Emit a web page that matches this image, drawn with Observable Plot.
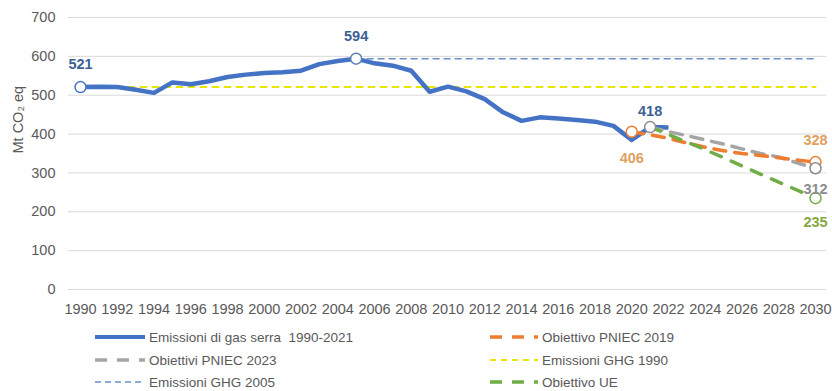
<!DOCTYPE html>
<html>
<head>
<meta charset="utf-8">
<script src="https://cdn.jsdelivr.net/npm/d3@7"></script>
<script src="https://cdn.jsdelivr.net/npm/@observablehq/plot@0.6"></script>
<style>
  body { margin: 0; background: #fff; }
  #chart { position: relative; width: 832px; height: 391px; font-family: "Liberation Sans", Arial, sans-serif; }
  .legend { position: absolute; left: 0; top: 322px; width: 832px; height: 69px; }
  .item { position: absolute; display: flex; align-items: center; font-size: 13.5px; color: #595959; white-space: pre; }
  .item svg { display: block; }
</style>
</head>
<body>
<div id="chart"></div>
<script>
// Emissioni di gas serra in Italia, 1990-2022 (Mt CO2 eq)
const years = [1990,1991,1992,1993,1994,1995,1996,1997,1998,1999,2000,2001,2002,2003,2004,2005,2006,2007,2008,2009,2010,2011,2012,2013,2014,2015,2016,2017,2018,2019,2020,2021,2022];
const emissions = [521,522,521,514,506,533,528,536,547,553,557,559,563,580,588,594,582,576,563,509,522,510,490,456,434,443,440,436,432,421,385,418,417];

// Obiettivo PNIEC 2019
const pniec2019Years = [2020,2021,2022,2023,2024,2025,2026,2027,2028,2029,2030];
const pniec2019 = [406,398,389,377,366,357,350,345,339,333,328];

// Obiettivi PNIEC 2023
const pniec2023Years = [2021,2022,2023,2024,2025,2026,2027,2028,2029,2030];
const pniec2023 = [418,406,396,385,374,362,350,341,326,312];

// Obiettivo UE
const ueYears = [2021,2024,2027,2030];
const ue = [418,360,297,235];

// Livelli di riferimento
const ghg1990 = 521;
const ghg2005 = 594;

const xTicks = d3.range(1990, 2031, 2);
const yTicks = [0,100,200,300,400,500,600,700];

const toRows = (xs, ys) => xs.map((x, i) => ({x, y: ys[i]}));
const mainRows = toRows(years, emissions);
const p19Rows = toRows(pniec2019Years, pniec2019);
const p23Rows = toRows(pniec2023Years, pniec2023);
const ueRows = toRows(ueYears, ue);
const ref1990 = [{x: 1990, y: ghg1990}, {x: 2030, y: ghg1990}];
const ref2005 = [{x: 2005, y: ghg2005}, {x: 2030, y: ghg2005}];

const C = {
  blue: "#4472c4", orange: "#ed7d31", gray: "#a5a5a5", green: "#70ad47",
  yellow: "#e6e600", steel: "#6a8fc8"
};

// punti evidenziati con etichetta (offset verticale dell'etichetta in px)
const markers = [
  {x: 1990, y: ghg1990, stroke: C.blue, label: String(ghg1990), fill: "#3d5f96", off: -23},
  {x: 2005, y: ghg2005, stroke: "#5b7fb5", label: String(ghg2005), fill: "#3d5f96", off: -22},
  {x: 2020, y: pniec2019[0], stroke: C.orange, label: String(pniec2019[0]), fill: "#e0a060", off: 27},
  {x: 2021, y: pniec2023[0], stroke: "#8c8c8c", label: String(pniec2023[0]), fill: "#3d5f96", off: -16},
  {x: 2030, y: pniec2019[pniec2019.length - 1], stroke: C.orange, label: String(pniec2019[pniec2019.length - 1]), fill: "#e0a060", off: -22},
  {x: 2030, y: pniec2023[pniec2023.length - 1], stroke: "#8c8c8c", label: String(pniec2023[pniec2023.length - 1]), fill: "#8c8c8c", off: 21},
  {x: 2030, y: ue[ue.length - 1], stroke: C.green, label: String(ue[ue.length - 1]), fill: "#86a843", off: 24}
];

const plot = Plot.plot({
  width: 832,
  height: 322,
  marginLeft: 68,
  marginRight: 6,
  marginTop: 17,
  marginBottom: 33,
  style: {fontFamily: "'Liberation Sans', Arial, sans-serif", fontSize: "14.5px", color: "#595959", background: "#fff"},
  x: {type: "linear", domain: [1990, 2030], insetLeft: 12, insetRight: 11},
  y: {domain: [0, 700]},
  marks: [
    Plot.gridY(yTicks, {stroke: "#d9d9d9", strokeOpacity: 1, strokeWidth: 1}),
    Plot.axisY(yTicks, {tickSize: 0, tickPadding: 13, tickFormat: d => String(d), label: null, fontSize: 14.5}),
    Plot.axisX(xTicks, {tickSize: 0, tickPadding: 14, tickFormat: d => String(d), label: null, fontSize: 14.5}),
    Plot.text(["Mt CO₂ eq"], {frameAnchor: "left", dx: -50, rotate: -90, fontSize: 14.5, fill: "#595959"}),
    Plot.line(ref1990, {x: "x", y: "y", stroke: C.yellow, strokeWidth: 2, strokeDasharray: "6,6"}),
    Plot.line(ref2005, {x: "x", y: "y", stroke: C.steel, strokeWidth: 1.5, strokeDasharray: "6,5"}),
    Plot.line(mainRows, {x: "x", y: "y", stroke: C.blue, strokeWidth: 4.5, strokeLinejoin: "round", strokeLinecap: "butt"}),
    Plot.line(p23Rows, {x: "x", y: "y", stroke: C.gray, strokeWidth: 3.5, strokeDasharray: "12,9"}),
    Plot.line(p19Rows, {x: "x", y: "y", stroke: C.orange, strokeWidth: 3.5, strokeDasharray: "12,9"}),
    Plot.line(ueRows, {x: "x", y: "y", stroke: C.green, strokeWidth: 3.5, strokeDasharray: "11,11"}),
    Plot.dot(markers, {x: "x", y: "y", r: 5.5, fill: "#fff", stroke: "stroke", strokeWidth: 1.5}),
    ...markers.map(m => Plot.text([m], {x: "x", y: "y", text: "label", dy: m.off, fill: m.fill, fontWeight: "bold", fontSize: 14.5}))
  ]
});

const chart = document.getElementById("chart");
chart.appendChild(plot);

// legenda
const legendItems = [
  {label: "Emissioni di gas serra  1990-2021", color: C.blue, width: 4, dash: null, left: 95, top: 15, sw: 50},
  {label: "Obiettivi PNIEC 2023", color: C.gray, width: 3.5, dash: "12,10", left: 95, top: 38, sw: 50},
  {label: "Emissioni GHG 2005", color: C.steel, width: 1.5, dash: "6,4", left: 95, top: 60, sw: 50},
  {label: "Obiettivo PNIEC 2019", color: C.orange, width: 3.5, dash: "12,10", left: 490, top: 15, sw: 48},
  {label: "Emissioni GHG 1990", color: C.yellow, width: 2, dash: "6,5", left: 490, top: 38, sw: 48},
  {label: "Obiettivo UE", color: C.green, width: 3.5, dash: "12,10", left: 490, top: 60, sw: 48}
];
const legend = document.createElement("div");
legend.className = "legend";
for (const it of legendItems) {
  const el = document.createElement("div");
  el.className = "item";
  el.style.left = it.left + "px";
  el.style.top = (it.top - 8) + "px";
  el.style.height = "16px";
  el.innerHTML = `<svg width="${it.sw}" height="10"><line x1="0" x2="${it.sw}" y1="5" y2="5" stroke="${it.color}" stroke-width="${it.width}" ${it.dash ? `stroke-dasharray="${it.dash}"` : ""}/></svg><span style="margin-left:4px">${it.label}</span>`;
  legend.appendChild(el);
}
chart.appendChild(legend);
</script>
</body>
</html>
